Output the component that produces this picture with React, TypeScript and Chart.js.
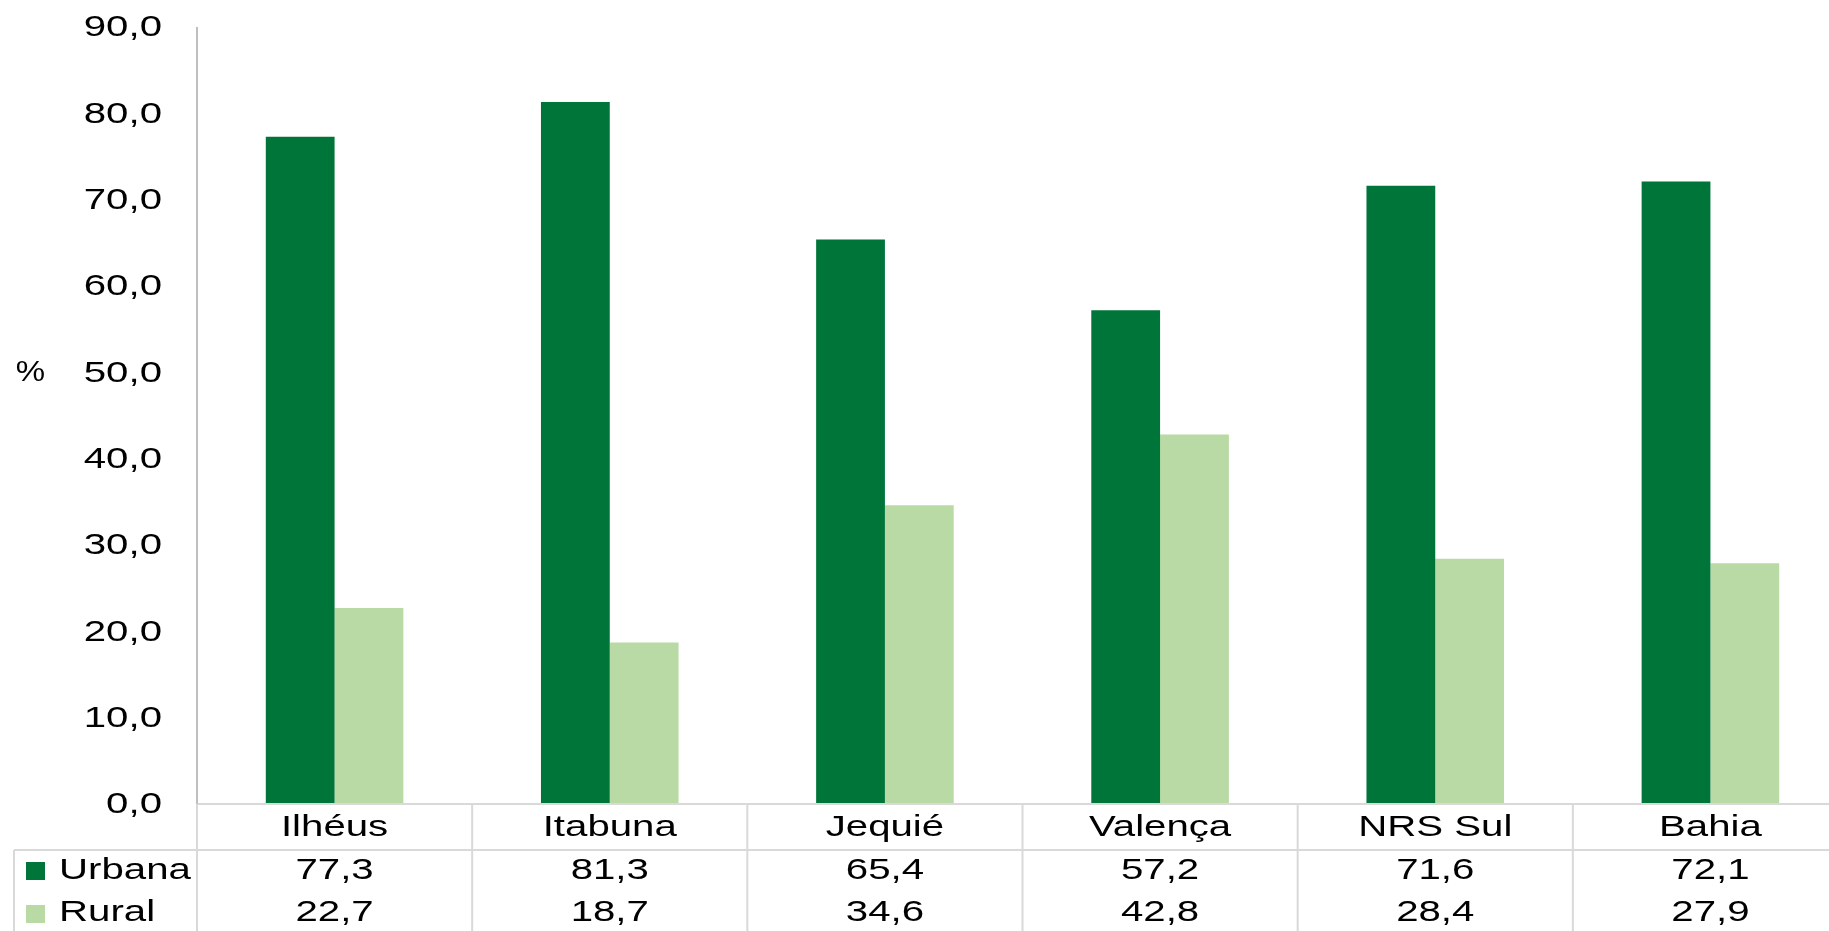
import React, { useEffect, useRef } from "react";
import { Chart, registerables } from "chart.js";

Chart.register(...registerables);

const categories = ["Ilhéus", "Itabuna", "Jequié", "Valença", "NRS Sul", "Bahia"];
const urbana = [77.3, 81.3, 65.4, 57.2, 71.6, 72.1];
const rural = [22.7, 18.7, 34.6, 42.8, 28.4, 27.9];
const seriesNames = ["Urbana", "Rural"];
const yTicks = [0, 10, 20, 30, 40, 50, 60, 70, 80, 90];
const yAxisTitle = "%";

const DARK = "#00753A";
const LIGHT = "#B9DAA4";
const FONT = '30px "Liberation Sans", Arial, sans-serif';
const SX = 1.34;

const fmt = (v: number) => v.toFixed(1).replace(".", ",");

function drawText(ctx: CanvasRenderingContext2D, text: string, x: number, y: number, align: CanvasTextAlign, sx: number = SX) {
  ctx.save();
  ctx.translate(x, y);
  ctx.scale(sx, 1);
  ctx.font = FONT;
  ctx.fillStyle = "#000000";
  ctx.textAlign = align;
  ctx.textBaseline = "middle";
  ctx.fillText(text, 0, 0);
  ctx.restore();
}

const tablePlugin = {
  id: "dataTable",
  afterDraw(chart: any) {
    const ctx: CanvasRenderingContext2D = chart.ctx;
    const area = chart.chartArea;
    const xs = chart.scales.x;
    const ys = chart.scales.y;
    const H = chart.height;
    const catW = (area.right - area.left) / categories.length;
    const rowLineY = 850;
    const tableLeft = 14;

    ctx.save();
    ctx.strokeStyle = "#D9D9D9";
    ctx.lineWidth = 2;
    ctx.beginPath();
    ctx.moveTo(area.left, area.bottom);
    ctx.lineTo(area.right, area.bottom);
    ctx.moveTo(tableLeft, rowLineY);
    ctx.lineTo(area.right, rowLineY);
    ctx.moveTo(tableLeft, rowLineY);
    ctx.lineTo(tableLeft, H);
    for (let i = 0; i <= categories.length; i++) {
      const x = area.left + i * catW;
      ctx.moveTo(x, area.bottom);
      ctx.lineTo(x, H);
    }
    ctx.stroke();

    ctx.strokeStyle = "#BFBFBF";
    ctx.beginPath();
    ctx.moveTo(area.left, area.top);
    ctx.lineTo(area.left, area.bottom);
    ctx.stroke();
    ctx.restore();

    yTicks.forEach((t) => {
      drawText(ctx, fmt(t), 162, ys.getPixelForValue(t) + 1, "right");
    });
    drawText(ctx, yAxisTitle, 30.5, ys.getPixelForValue(50), "center", 1.1);

    categories.forEach((c, i) => {
      const cx = xs.getPixelForValue(i);
      drawText(ctx, c, cx, 828, "center");
      drawText(ctx, fmt(urbana[i]), cx, 871, "center");
      drawText(ctx, fmt(rural[i]), cx, 913, "center");
    });

    ctx.save();
    ctx.fillStyle = DARK;
    ctx.fillRect(26, 862, 19, 18);
    ctx.fillStyle = LIGHT;
    ctx.fillRect(26, 905, 19, 18);
    ctx.restore();
    drawText(ctx, seriesNames[0], 59, 871, "left");
    drawText(ctx, seriesNames[1], 59, 913, "left");
  },
};

export default function App() {
  const ref = useRef<HTMLCanvasElement>(null);

  useEffect(() => {
    if (!ref.current) return;
    const chart = new Chart(ref.current, {
      type: "bar",
      data: {
        labels: categories,
        datasets: [
          { label: seriesNames[0], data: urbana, backgroundColor: DARK, categoryPercentage: 0.5, barPercentage: 1 },
          { label: seriesNames[1], data: rural, backgroundColor: LIGHT, categoryPercentage: 0.5, barPercentage: 1 },
        ],
      },
      options: {
        responsive: false,
        animation: false,
        layout: { padding: { left: 197, top: 27, right: 12, bottom: 127 } },
        plugins: { legend: { display: false }, tooltip: { enabled: false }, title: { display: false } },
        scales: {
          x: { display: false },
          y: { display: false, min: 0, max: 90 },
        },
      },
      plugins: [tablePlugin],
    });
    return () => chart.destroy();
  }, []);

  return (
    <div style={{ position: "fixed", left: 0, top: 0, width: 1829, height: 931, overflow: "hidden", background: "#fff" }}>
      <canvas ref={ref} width={1860} height={931} style={{ width: 1860, height: 931, display: "block" }} />
    </div>
  );
}
